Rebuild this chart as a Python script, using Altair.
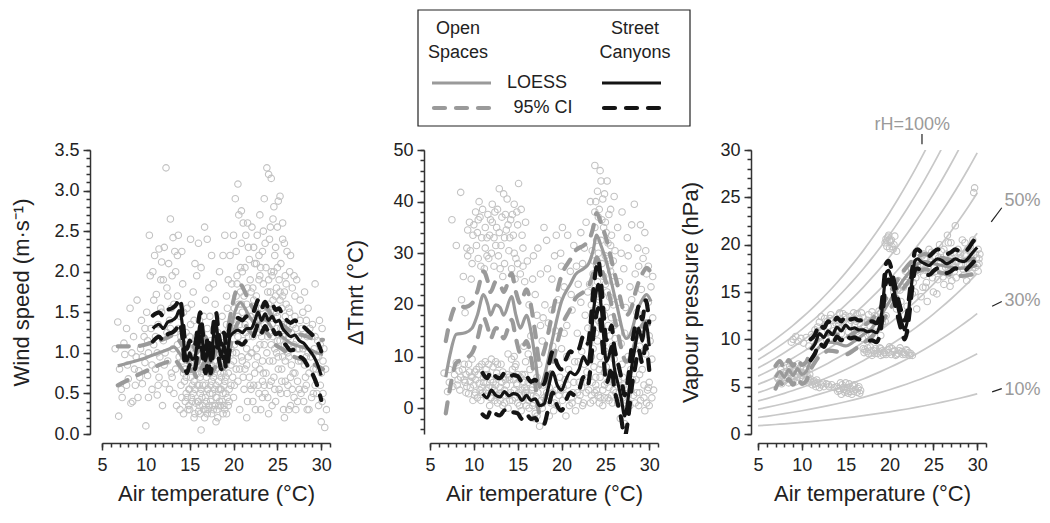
import altair as alt
import pandas as pd

# ---------------- data ----------------
wind_pts = [
    (6.5,1.05),(6.8,1.38),(6.9,0.22),(7.2,0.55),(7.3,0.45),(7.5,1.12),(7.6,0.98),(7.8,1.3),(7.9,0.85),(8.0,0.68),
    (8.2,1.55),(8.3,0.38),(8.5,0.4),(8.6,1.2),(8.8,0.6),(8.9,0.95),(9.0,1.65),(9.1,0.45),(9.2,0.78),(9.4,1.05),
    (9.5,1.4),(9.6,0.62),(9.8,1.2),(9.9,0.88),(10.0,0.1),(10.1,1.5),(10.2,0.72),(10.3,1.0),(10.4,2.45),(10.5,1.95),
    (10.6,1.3),(10.7,0.55),(10.8,2.0),(10.9,1.1),(11.0,2.2),(11.1,0.8),(11.2,1.72),(11.3,0.48),(11.4,1.35),(11.5,2.28),
    (11.6,0.95),(11.7,1.55),(11.8,2.12),(11.9,0.35),(12.0,1.15),(12.1,2.3),(12.2,0.62),(12.3,3.28),(12.4,1.8),(12.5,0.9),
    (12.6,2.1),(12.7,1.4),(12.8,2.65),(12.9,0.75),(13.0,1.95),(13.1,2.42),(13.2,0.5),(13.3,1.25),(13.4,2.0),(13.5,0.35),
    (13.6,1.7),(13.7,2.45),(13.8,0.95),(13.9,1.45),(14.0,0.6),(14.1,2.25),(14.2,1.85),(14.3,0.25),(14.4,1.1),
    (14.5,0.4),(14.6,0.7),(14.7,1.55),(14.8,0.3),(14.9,0.9),(15.0,0.55),(15.0,1.2),(15.1,2.4),(15.2,0.45),(15.3,0.8),
    (15.4,1.75),(15.5,0.2),(15.5,0.65),(15.6,1.0),(15.7,0.38),(15.8,1.95),(15.9,0.6),(16.0,0.28),(16.0,0.85),(16.1,1.4),
    (16.2,0.5),(16.3,0.05),(16.3,2.05),(16.4,0.75),(16.5,1.15),(16.5,0.35),(16.6,0.95),(16.7,2.55),(16.8,0.45),(16.9,0.7),
    (17.0,0.25),(17.0,1.3),(17.1,0.55),(17.2,1.8),(17.3,0.85),(17.4,0.4),(17.5,0.65),(17.5,2.2),(17.6,1.05),(17.7,0.3),
    (17.8,0.55),(17.9,1.6),(18.0,0.15),(18.0,0.8),(18.1,0.45),(18.2,1.25),(18.3,0.65),(18.4,2.0),(18.5,0.35),(18.5,0.95),
    (18.6,0.55),(18.7,1.45),(18.8,0.25),(18.9,0.75),(19.0,1.1),(19.0,2.45),(19.1,0.5),(19.2,1.7),(19.3,0.9),(19.4,0.35),
    (19.5,1.3),(19.6,2.2),(19.7,0.6),(19.8,1.85),(19.9,1.0),(20.0,2.45),(20.0,0.45),(20.1,1.55),(20.2,2.9),(20.3,0.8),
    (20.4,1.95),(20.5,3.08),(20.5,1.2),(20.6,2.7),(20.7,0.3),(20.8,1.75),(20.9,2.35),(21.0,0.9),(21.0,1.5),(21.1,2.6),
    (21.2,0.55),(21.3,2.05),(21.4,1.25),(21.5,0.2),(21.6,1.8),(21.7,2.3),(21.8,0.7),(21.9,1.45),(22.0,1.0),
    (22.1,2.55),(22.2,0.4),(22.3,1.65),(22.4,2.1),(22.5,0.85),(22.6,1.3),(22.7,2.45),(22.8,0.6),(22.9,1.9),(23.0,1.1),
    (23.0,2.7),(23.1,0.3),(23.2,1.55),(23.3,2.25),(23.4,0.75),(23.5,2.9),(23.5,1.35),(23.6,0.5),(23.7,2.05),(23.8,3.28),
    (23.8,1.0),(23.9,1.75),(24.0,3.2),(24.0,0.25),(24.1,2.4),(24.2,1.25),(24.3,3.15),(24.3,0.65),(24.4,1.95),(24.5,2.65),
    (24.5,0.9),(24.6,1.5),(24.7,2.2),(24.8,0.4),(24.9,1.8),(25.0,2.55),(25.0,1.15),(25.1,2.87),(25.2,0.55),(25.3,2.93),
    (25.3,1.65),(25.4,2.1),(25.5,0.8),(25.6,2.4),(25.7,1.35),(25.8,0.2),(25.9,1.95),(26.0,1.05),(26.1,2.25),(26.2,0.6),
    (26.3,1.55),(26.4,2.0),(26.5,0.35),(26.6,1.25),(26.7,1.8),(26.8,0.75),(27.0,1.45),(27.1,0.3),(27.2,1.9),(27.3,1.05),
    (27.5,0.55),(27.6,1.65),(27.7,0.9),(27.8,1.3),(28.0,0.4),(28.1,1.75),(28.2,0.7),(28.4,1.2),(28.5,1.55),(28.6,0.3),
    (28.8,0.95),(29.0,1.35),(29.1,0.5),(29.3,1.85),(29.4,0.8),(29.6,1.15),(29.7,0.35),(29.8,1.4),(30.0,0.15),(30.0,0.75),
    (30.1,1.3),(30.2,0.5),(30.3,1.05),(30.4,0.08),(30.5,0.8),(30.6,0.3),
    (14.6,0.5),(14.9,0.35),(15.2,0.95),(15.4,0.5),(15.7,0.8),(15.9,0.4),(16.1,0.6),(16.3,0.9),(16.6,0.3),(16.8,0.6),
    (17.0,0.8),(17.2,0.35),(17.4,0.6),(17.6,0.5),(17.8,0.9),(18.1,0.3),(18.3,0.55),(18.5,0.75),(18.7,0.4),(18.9,0.6),
    (19.1,0.85),(19.3,0.45),(15.8,1.2),(16.9,1.1),(18.2,1.0),(22.4,1.4),(22.9,1.25),(23.3,0.9),(23.6,1.6),(23.9,1.2),
    (24.2,1.75),(24.4,1.35),(24.7,1.05),(24.9,1.5),(25.2,1.9),(25.4,1.3),(25.6,1.7),(25.8,1.1),(26.0,1.6),(26.3,0.95),
    (22.2,1.8),(22.6,1.7),(23.1,2.05),(24.6,2.0),(25.9,1.45),(20.2,1.3),(20.6,1.6),(21.2,1.7),(19.8,1.4),(21.5,1.05),
    (13.0,0.7),(13.6,1.1),(12.2,1.0),(11.5,0.7),(12.8,1.3),(14.2,0.9),(27.4,1.2),(28.3,0.95),(29.2,1.05),(26.9,1.1),
    (14.5,0.8),(14.7,0.45),(14.8,1.05),(15.0,0.3),(15.1,0.7),(15.3,0.4),(15.4,1.1),(15.6,0.25),(15.6,0.55),(15.8,0.85),
    (16.0,0.4),(16.0,1.05),(16.2,0.25),(16.2,0.7),(16.4,0.45),(16.5,0.6),(16.7,0.2),(16.7,0.85),(16.9,0.4),(17.1,0.3),
    (17.1,0.95),(17.3,0.5),(17.5,0.25),(17.5,0.85),(17.7,0.7),(17.9,0.35),(18.0,0.6),(18.2,0.2),(18.4,0.4),(18.4,0.85),
    (18.6,0.7),(18.8,0.5),(19.0,0.3),(19.0,0.65),(19.2,0.25),(19.4,0.75),(19.5,0.55),(15.5,1.4),(16.4,1.25),(17.3,1.45),
    (18.6,1.2),(19.3,1.55),(14.3,1.5),(15.2,1.6),(16.8,1.65),(17.7,1.85),(18.8,2.2),(16.0,2.35),(15.6,2.1),(17.0,2.4),
    (19.7,1.05),(19.9,0.7),(20.1,1.1),(20.3,1.7),(20.5,0.65),(20.7,1.35),(20.9,0.95),(21.1,1.15),(21.3,0.8),(21.5,1.6),
    (21.7,0.95),(21.9,1.9),(22.0,0.55),(22.2,1.2),(22.4,0.75),(22.6,1.05),(22.8,1.55),(23.0,0.8),(23.2,1.2),(23.4,1.85),
    (23.5,0.6),(23.7,1.45),(23.9,0.45),(24.0,1.6),(24.1,0.9),(24.3,2.0),(24.5,1.2),(24.6,0.7),(24.8,1.7),(24.9,1.0),
    (25.0,1.45),(25.1,0.8),(25.3,1.15),(25.5,1.55),(25.6,0.95),(25.8,1.75),(25.9,0.65),(26.1,1.35),(26.2,1.0),(26.4,1.5),
    (26.6,0.85),(26.8,1.35),(27.0,0.75),(27.2,1.15),(27.4,0.9),(27.6,1.4),(27.9,1.05),(28.1,0.55),(28.3,1.4),(28.6,0.75),
    (28.9,1.2),(29.3,0.6),(29.5,0.95),(29.9,1.1),(30.2,0.9),(22.3,2.3),(23.6,2.35),(24.8,2.3),(25.6,2.6),(26.5,2.2),
    (7.0,0.8),(7.8,0.6),(8.4,1.0),(9.3,0.7),(9.9,1.3),(10.3,0.45),(10.7,0.85),(11.1,1.2),(11.4,0.6),(11.8,1.5),
    (12.1,0.85),(12.4,1.25),(12.7,0.55),(13.1,1.05),(13.4,0.8),(13.7,1.3),(14.0,1.2),(14.1,0.45),(13.2,1.6),(12.5,1.7),
    (20.3,2.25),(21.4,2.45),(20.8,2.05),(21.8,2.15),(19.4,1.9),(20.0,0.9),(21.6,0.4),(22.5,0.3),(23.3,0.45),(24.4,0.35),
    (25.4,0.5),(26.3,0.3),(27.3,0.4),(28.4,0.3),(26.7,0.55),(25.7,0.3),
    (14.4,0.65),(14.6,1.25),(14.9,0.55),(15.1,1.35),(15.3,0.6),(15.5,0.9),(15.7,1.15),(15.9,0.75),(16.1,0.35),(16.3,0.55),
    (16.5,0.8),(16.6,1.45),(16.8,0.3),(17.0,0.55),(17.2,0.75),(17.4,1.15),(17.6,0.35),(17.8,0.75),(18.0,0.45),(18.1,1.1),
    (18.3,0.35),(18.5,0.55),(18.7,0.85),(18.9,0.35),(19.1,0.7),(19.3,1.15),(19.5,0.4),(19.7,0.85),(19.9,1.25),(20.1,0.6),
    (20.3,1.0),(20.5,1.45),(20.7,0.8),(20.9,1.6),(21.1,0.7),(21.3,1.35),(21.5,0.85),(21.7,1.2),(21.9,0.6),(22.1,1.0),
    (22.3,0.6),(22.5,1.5),(22.7,0.95),(22.9,0.5),(23.1,1.4),(23.3,0.65),(23.5,1.1),(23.7,0.75),(23.9,1.55),(24.1,0.6),
    (24.3,1.1),(24.5,1.65),(24.7,0.55),(24.9,1.3),(25.1,0.95),(25.3,1.75),(25.5,0.65),(25.7,1.2),(25.9,0.9),(26.1,0.5),
    (26.3,1.2),(26.5,0.7),(26.7,1.05),(26.9,0.45),(27.1,1.3),(27.3,0.65),(27.5,1.05),(27.7,0.5),(27.9,1.5),(28.1,0.85),
    (28.3,0.6),(28.5,1.0),(28.7,1.3),(28.9,0.45),(29.1,0.8),(29.3,1.2),(29.5,0.5),(29.7,0.95),(29.9,0.6),(30.1,0.4),
    (19.2,1.35),(20.4,1.85),(21.0,2.0),(22.0,1.75),(23.0,1.95),(24.0,1.9),(25.0,2.05),(26.0,1.85),(27.0,1.7),(21.6,2.6),
    (22.6,2.1),(24.2,2.55),(25.8,2.35),(26.9,1.95),(23.4,2.5),(20.9,2.75),(24.6,2.8),(22.9,2.2),(13.6,2.2),(12.0,1.9),
    (13.3,2.25),(11.7,1.9),(10.9,1.65),(12.9,1.55),(11.3,1.0),(10.2,1.15),(9.6,0.95),(8.7,0.8),(13.9,0.3),(14.3,0.75),
]

wind_open_t = [6.8, 7.5, 8.5, 9.5, 10.5, 11.5, 12.5, 13.2, 13.8, 14.3, 14.8, 15.3, 15.8, 16.3, 16.8, 17.3, 17.8, 18.3, 18.8,
               19.3, 19.8, 20.3, 20.8, 21.3, 21.8, 22.3, 22.8, 23.3, 23.8, 24.3, 24.8, 25.5, 26.5, 27.5, 28.5, 29.5, 30.2]
wind_open_v = [0.84, 0.86, 0.89, 0.92, 0.96, 1.0, 1.04, 1.07, 1.0, 0.92, 0.88, 0.95, 0.85, 0.95, 1.05, 0.88, 0.95, 1.05, 0.95,
               1.1, 1.35, 1.55, 1.62, 1.55, 1.45, 1.38, 1.35, 1.42, 1.4, 1.32, 1.25, 1.2, 1.12, 1.08, 1.05, 1.0, 0.98]
wind_open_ci = [0.24, 0.22, 0.19, 0.17, 0.16, 0.15, 0.15, 0.15, 0.15, 0.15, 0.15, 0.15, 0.15, 0.15, 0.15, 0.15, 0.15, 0.15, 0.15,
                0.17, 0.2, 0.22, 0.22, 0.2, 0.18, 0.16, 0.15, 0.15, 0.15, 0.15, 0.15, 0.15, 0.15, 0.15, 0.15, 0.16, 0.18]

wind_street_t = [10.8, 11.5, 12.0, 12.5, 13.0, 13.5, 13.8, 14.1, 14.4, 14.7, 15.0, 15.3, 15.6, 15.9, 16.2, 16.5, 16.8, 17.1,
                 17.4, 17.7, 18.0, 18.3, 18.6, 18.9, 19.2, 19.6, 20.0, 20.5, 21.0, 21.5, 22.0, 22.5, 22.8, 23.2, 23.6, 24.0,
                 24.4, 24.8, 25.2, 25.6, 26.0, 26.5, 27.0, 27.5, 28.0, 28.5, 29.0, 29.5, 30.0]
wind_street_v = [1.3, 1.35, 1.3, 1.38, 1.4, 1.45, 1.52, 1.4, 1.05, 0.9, 1.0, 0.92, 0.95, 1.15, 1.35, 1.1, 0.9, 1.05,
                 0.9, 1.2, 1.35, 1.1, 0.95, 1.1, 0.95, 1.2, 1.25, 1.28, 1.25, 1.3, 1.3, 1.42, 1.5, 1.4, 1.48, 1.4,
                 1.45, 1.38, 1.4, 1.3, 1.25, 1.2, 1.22, 1.15, 1.12, 1.05, 0.98, 0.88, 0.72]
wind_street_ci = [0.16, 0.15, 0.15, 0.15, 0.15, 0.15, 0.15, 0.15, 0.15, 0.15, 0.15, 0.15, 0.15, 0.15, 0.15, 0.15, 0.15, 0.15,
                  0.15, 0.15, 0.15, 0.15, 0.15, 0.15, 0.15, 0.15, 0.15, 0.15, 0.15, 0.15, 0.15, 0.15, 0.15, 0.15, 0.15, 0.15,
                  0.15, 0.15, 0.15, 0.15, 0.16, 0.17, 0.18, 0.19, 0.2, 0.22, 0.24, 0.27, 0.3]

tmrt_pts = [
    (6.6,6.8),(7.0,3.2),(7.2,5.0),(7.5,36.5),(7.8,6.5),(8.0,31.5),(8.1,4.5),(8.3,7.2),(8.5,41.8),(8.6,21.0),
    (8.8,25.5),(8.9,5.5),(9.0,18.5),(9.1,3.0),(9.2,31.0),(9.3,29.5),(9.4,8.5),(9.5,36.0),(9.6,4.0),(9.7,25.0),
    (9.8,6.0),(9.9,33.5),(10.0,35.5),(10.1,2.5),(10.2,38.0),(10.3,7.5),(10.4,34.0),(10.5,29.0),(10.6,4.8),(10.7,37.0),
    (10.8,1.5),(10.9,33.0),(11.0,38.5),(11.1,6.0),(11.2,27.0),(11.3,35.0),(11.4,3.5),(11.5,29.5),(11.6,37.5),(11.7,8.5),
    (11.8,33.5),(11.9,2.0),(12.0,30.0),(12.1,36.0),(12.2,5.0),(12.3,27.5),(12.4,38.0),(12.5,9.0),(12.6,35.0),(12.7,1.0),
    (12.8,29.5),(12.9,42.5),(13.0,4.0),(13.1,31.5),(13.2,37.0),(13.3,7.0),(13.4,41.5),(13.5,28.0),(13.6,2.5),(13.7,34.5),
    (13.8,40.5),(13.9,10.5),(14.0,30.5),(14.1,5.5),(14.2,36.5),(14.3,27.0),(14.4,1.5),(14.5,33.5),(14.6,39.5),(14.7,8.0),
    (14.8,29.0),(14.9,4.5),(15.0,35.5),(15.1,43.5),(15.2,0.5),(15.3,26.0),(15.4,38.5),(15.5,6.5),(15.6,31.0),(15.7,12.0),
    (15.8,24.5),(15.9,3.0),
    (8.5,6.0),(9.0,5.0),(9.5,7.0),(10.0,4.5),(10.5,6.5),(11.0,3.0),(11.5,5.0),(12.0,2.0),(12.5,4.5),(13.0,1.5),
    (13.5,3.5),(14.0,2.5),(14.5,5.5),(15.0,1.0),(15.5,3.5),(16.0,0.5),(16.5,2.5),(17.0,-1.0),(12.2,8.0),(13.8,6.5),
    (14.8,8.5),(16.2,5.0),(17.3,3.0),(9.8,9.5),(11.3,9.0),(10.2,3.0),(12.8,6.0),(13.3,0.5),(15.8,6.5),(16.7,4.0),
    (16.1,28.5),(16.3,20.0),(16.5,14.0),(16.8,29.5),(17.0,22.0),(17.2,18.0),(17.4,8.5),(17.5,-3.5),(17.6,26.0),(17.8,13.0),
    (18.0,35.0),(18.1,20.0),(18.2,1.5),(18.3,32.5),(18.5,16.5),(18.6,-1.5),(18.8,9.5),(18.9,25.0),(19.0,3.0),(19.2,29.5),
    (19.3,15.0),(19.5,0.5),(19.6,21.0),(19.8,6.0),(19.9,30.0),(17.9,4.5),(18.4,6.5),(19.1,-0.5),(19.7,2.5),
    (20.0,11.5),(20.1,35.0),(20.2,4.0),(20.3,23.5),(20.5,-1.5),(20.6,16.0),(20.7,33.5),(20.8,7.5),(21.0,26.5),(21.1,2.0),
    (21.2,19.0),(21.4,31.5),(21.5,9.0),(21.6,-0.5),(21.8,14.5),(21.9,24.0),(22.0,5.0),(22.2,34.0),(22.3,11.0),(22.4,28.0),
    (22.5,1.0),(22.7,18.0),(22.8,36.0),(22.9,7.0),(23.0,15.5),(20.4,5.5),(21.3,3.0),(22.1,2.5),(22.6,8.5),
    (23.1,3.5),(23.2,24.0),(23.3,40.0),(23.4,10.0),(23.5,30.5),(23.6,1.5),(23.7,18.0),(23.8,47.0),(23.8,35.0),(23.9,6.0),
    (24.0,27.5),(24.1,42.0),(24.1,13.0),(24.2,2.5),(24.3,38.5),(24.3,21.0),(24.4,46.0),(24.5,8.5),(24.5,32.5),(24.6,15.5),
    (24.7,40.5),(24.7,0.5),(24.8,25.5),(24.9,4.5),(25.0,36.0),(25.0,11.0),(25.1,19.5),(25.2,44.0),(25.2,29.0),(25.3,2.0),
    (25.4,37.5),(25.5,14.0),(25.5,7.0),(25.6,26.5),(25.7,33.5),(25.8,1.0),(25.9,20.0),(26.0,41.0),(26.0,9.5),(26.1,30.5),
    (23.5,5.0),(24.0,3.5),(24.4,6.0),(24.9,2.0),(25.4,4.0),(25.9,5.5),(23.7,8.0),(24.2,17.0),(24.6,22.0),(25.3,16.0),
    (25.8,12.0),(23.2,12.5),(26.2,3.0),
    (26.3,16.5),(26.4,35.0),(26.5,1.5),(26.6,24.5),(26.7,-2.0),(26.8,12.5),(26.9,38.0),(27.0,6.0),(27.1,27.0),(27.2,-3.0),
    (27.3,19.5),(27.4,4.0),(27.5,33.0),(27.6,10.0),(27.7,1.0),(27.8,23.5),(27.9,7.5),(28.0,35.5),(28.1,14.0),(28.2,2.5),
    (26.5,5.5),(27.0,2.0),(27.5,0.0),(26.9,8.5),
    (28.3,39.5),(28.4,26.0),(28.5,5.5),(28.6,18.5),(28.7,31.0),(28.8,0.5),(28.9,12.0),(29.0,35.5),(29.1,23.0),(29.2,7.5),
    (29.3,29.0),(29.4,16.0),(29.5,34.0),(29.5,-0.5),(29.6,10.5),(29.7,26.0),(29.8,3.5),(29.9,20.5),(30.0,0.5),(30.1,13.0),
    (30.2,23.5),(30.3,9.5),(30.5,3.5),(30.4,17.5),
    (8.2,5.5),(8.7,7.5),(9.2,4.2),(9.7,6.2),(10.2,5.5),(10.6,8.0),(10.9,4.0),(11.2,6.5),(11.6,2.8),(11.9,5.5),
    (12.3,3.5),(12.6,6.8),(12.9,2.5),(13.2,5.0),(13.5,1.0),(13.7,4.5),(14.0,6.0),(14.2,3.0),(14.4,7.5),(14.7,2.0),
    (14.9,4.8),(15.1,3.0),(15.3,6.0),(15.6,1.5),(15.8,4.0),(16.1,2.5),(16.3,0.0),(16.6,3.5),(16.8,1.0),(17.1,2.2),
    (17.4,0.5),(17.7,1.5),(10.4,2.0),(11.8,0.5),(12.4,1.5),(13.9,0.0),(15.4,-0.5),(16.9,-2.0),(9.4,2.8),(8.9,8.5),
    (7.2,7.5),(7.6,4.2),(8.0,8.8),(12.0,9.5),(13.1,8.5),(14.6,10.0),(15.9,9.0),(16.4,7.5),(17.2,6.0),(11.4,7.5),
    (9.3,34.5),(9.8,28.0),(10.3,31.5),(10.8,27.5),(11.3,31.0),(11.9,36.5),(12.3,33.0),(12.7,38.5),(13.0,27.0),(13.6,37.5),
    (14.1,33.0),(14.6,30.0),(15.0,28.0),(15.5,33.5),(15.9,36.0),(11.5,33.0),(12.9,34.0),(14.4,37.5),(10.6,40.0),(13.3,25.5),
    (16.2,10.5),(16.7,25.0),(17.3,31.0),(17.9,17.5),(18.4,27.0),(18.9,19.0),(19.4,33.5),(20.0,27.5),(20.6,10.0),(21.1,22.0),
    (21.7,27.5),(22.2,20.5),(22.6,31.0),(23.0,22.5),(19.0,12.0),(20.3,14.5),(21.9,9.0),(17.6,16.0),
    (18.0,2.0),(18.6,4.0),(19.2,1.0),(19.9,3.5),(20.5,2.5),(20.9,0.5),(21.4,5.0),(21.9,1.5),(22.3,4.0),(22.8,3.0),
    (23.3,1.0),(23.8,3.0),(24.3,1.0),(24.7,3.5),(25.2,5.0),(25.7,2.5),(26.1,5.0),(26.6,3.0),(27.1,4.5),(27.6,2.5),
    (28.1,5.5),(28.6,3.0),(29.0,1.5),(29.4,4.5),(30.0,5.0),(26.3,7.0),(27.8,0.5),(28.9,6.5),(29.7,1.0),(30.3,2.0),
    (23.4,20.0),(23.6,26.0),(23.9,14.5),(24.0,32.5),(24.2,37.0),(24.4,10.0),(24.6,28.0),(24.8,35.0),(25.0,24.0),(25.1,8.0),
    (25.3,32.0),(25.5,21.5),(25.7,17.5),(25.9,28.5),(26.1,13.5),(24.1,24.5),(24.9,18.0),(25.6,38.5),(23.9,40.0),(24.5,44.0),
    (26.5,20.5),(26.8,30.0),(27.2,14.5),(27.6,29.5),(28.0,21.0),(28.4,11.5),(28.8,27.5),(29.2,15.5),(29.6,30.5),(30.0,14.0),
    (29.9,27.5),(30.4,25.5),
    (8.4,3.5),(9.1,6.5),(9.6,5.2),(10.1,7.0),(10.7,3.5),(11.1,5.0),(11.6,6.5),(12.1,4.0),(12.6,2.5),(13.1,3.0),
    (13.6,5.5),(14.1,1.5),(14.6,3.5),(15.2,2.5),(15.7,5.0),(16.2,1.5),(16.7,0.5),(17.2,-1.5),(17.8,0.0),(18.3,3.0),
    (18.8,1.0),(19.4,3.5),(20.1,1.5),(20.7,4.5),(21.2,1.0),(21.8,3.0),(22.4,0.5),(22.9,5.0),(23.4,2.5),(23.9,4.5),
    (24.4,2.0),(24.9,7.0),(25.4,1.5),(25.9,3.5),(26.4,1.0),(26.9,4.0),(27.4,1.5),(27.9,3.5),(28.4,1.0),(28.9,3.0),
    (29.4,2.0),(29.9,4.0),(10.9,8.5),(12.7,8.5),(14.3,9.5),(9.9,1.5),(11.7,4.0),(13.4,6.0),(15.0,6.5),(16.0,3.5),
    (23.5,15.5),(23.7,28.5),(24.0,20.5),(24.2,30.0),(24.4,16.5),(24.6,36.5),(24.8,12.5),(25.0,29.5),(25.2,22.5),(25.4,10.5),
    (25.6,31.5),(25.8,24.5),(26.0,16.0),(24.3,7.5),(24.7,19.0),(25.1,34.0),(23.6,11.5),(24.9,41.5),(25.5,27.5),(23.8,38.0),
    (9.6,30.5),(10.5,36.5),(11.7,29.0),(12.5,31.5),(13.9,35.5),(14.9,38.0),(15.6,27.5),(12.1,39.5),(13.5,33.0),(14.7,25.0),
]

tmrt_open_t = [6.8, 7.3, 8.0, 9.0, 9.8, 10.4, 11.1, 11.6, 11.9, 12.5, 13.0, 13.4, 14.3, 14.8, 15.3, 16.0, 16.5, 17.0, 17.5,
               18.0, 18.9, 20.0, 21.0, 21.6, 22.5, 23.1, 23.6, 24.0, 24.5, 25.1, 26.2, 27.4, 28.0, 28.5, 29.2, 29.7, 30.2]
tmrt_open_v = [6.0, 10.5, 14.3, 14.6, 15.5, 18.0, 22.0, 20.0, 18.0, 20.0, 19.5, 18.0, 21.6, 18.0, 15.5, 18.0, 15.0, 9.6, 4.0,
               6.0, 12.9, 20.7, 24.0, 25.9, 27.0, 28.0, 30.5, 33.5, 31.5, 28.5, 20.7, 13.5, 15.0, 18.1, 21.0, 22.0, 20.7]
tmrt_open_ci = [7.0, 6.5, 5.5, 5.0, 4.8, 4.6, 4.5, 4.5, 4.5, 4.5, 4.5, 4.5, 4.5, 4.5, 4.8, 5.0, 5.0, 5.0, 5.0,
                5.0, 5.0, 5.0, 4.8, 4.6, 4.5, 4.4, 4.4, 4.3, 4.3, 4.3, 4.4, 4.5, 4.6, 4.8, 5.0, 5.2, 5.5]

tmrt_street_t = [11.0, 11.5, 12.0, 12.5, 13.0, 13.5, 14.0, 14.5, 15.0, 15.5, 16.0, 16.5, 17.0, 17.5, 18.0, 18.5, 19.0, 19.5,
                 20.0, 20.5, 21.0, 21.5, 22.0, 22.5, 23.0, 23.3, 23.6, 23.9, 24.2, 24.5, 24.8, 25.1, 25.4, 25.7, 26.0, 26.4,
                 26.8, 27.2, 27.6, 28.0, 28.4, 28.8, 29.2, 29.6, 30.0]
tmrt_street_v = [2.8, 2.0, 3.5, 2.5, 2.2, 3.2, 2.4, 2.8, 2.6, 1.5, 2.5, 1.5, 1.8, 0.5, 0.8, 4.0, 7.0, 4.5,
                 3.5, 5.5, 7.0, 6.5, 7.5, 10.0, 8.5, 12.0, 18.0, 22.0, 24.0, 20.0, 14.0, 9.0, 10.0, 12.0, 8.0, 5.0,
                 2.0, -1.5, 2.0, 8.0, 12.0, 15.5, 13.0, 16.5, 12.0]
tmrt_street_ci = [4.0, 3.8, 3.7, 3.6, 3.6, 3.6, 3.6, 3.6, 3.6, 3.6, 3.6, 3.6, 3.7, 3.8, 3.9, 4.0, 4.0, 4.0,
                  4.0, 4.0, 4.0, 4.0, 4.0, 4.0, 4.0, 4.2, 4.4, 4.6, 4.6, 4.5, 4.3, 4.2, 4.0, 4.0, 4.0, 4.0,
                  4.0, 4.0, 4.0, 4.0, 4.0, 4.2, 4.2, 4.4, 4.6]

vp_pts = [
    (7.3,5.8),(7.5,5.5),(7.8,6.2),(8.0,5.6),(8.2,6.6),(8.4,5.9),(8.6,7.2),(8.8,6.1),(9.0,5.7),(9.2,6.8),
    (9.4,6.3),(9.6,7.4),(9.8,5.9),(10.0,6.5),(10.2,7.0),(10.4,5.6),(10.6,6.2),(10.8,5.4),(11.0,5.8),(11.2,5.2),
    (11.4,5.6),(11.6,5.0),(11.8,5.4),(12.0,4.9),(8.3,7.0),(9.5,6.0),(10.5,6.8),(7.6,6.8),
    (8.8,9.7),(9.0,10.0),(9.3,10.3),(9.6,9.8),(9.9,10.1),(10.2,9.6),(10.5,10.2),(10.8,9.3),(11.1,10.5),
    (14.0,5.0),(14.3,4.6),(14.6,5.2),(14.9,4.4),(15.2,4.9),(15.5,4.5),(15.8,5.1),(16.1,4.7),(16.4,4.8),(14.5,4.2),
    (15.0,5.4),(15.7,4.2),(16.7,4.6),
    (17.0,9.0),(17.4,8.7),(17.8,9.2),(18.2,8.8),(18.6,8.5),(19.0,9.0),(19.4,8.6),(19.8,8.9),(20.2,8.4),(20.6,8.8),
    (21.0,8.5),(21.4,8.7),(21.8,8.4),(22.2,8.6),(22.6,8.3),(18.0,8.3),(20.0,9.2),(21.2,9.1),
    (11.5,11.0),(12.0,11.8),(12.3,10.7),(12.6,12.2),(13.0,11.4),(13.3,12.6),(13.6,10.9),(14.0,12.0),(14.3,12.8),(14.6,11.3),
    (15.0,12.5),(15.3,10.8),(15.6,12.0),(16.0,11.5),(16.3,12.7),(16.6,11.0),(17.0,12.3),(17.3,11.8),(17.7,10.6),(18.0,12.9),
    (18.4,11.4),(18.7,12.1),(19.0,10.4),(19.3,13.5),(19.6,12.5),(13.8,9.8),(15.8,10.2),(12.8,10.0),(16.9,10.1),
    (19.5,20.2),(19.8,20.8),(20.0,19.6),(20.2,20.5),(20.5,20.0),(20.8,19.3),(19.9,21.0),(20.6,20.9),
    (20.5,15.0),(21.0,16.2),(21.3,14.0),(21.6,15.5),(22.0,13.5),(22.3,16.8),(22.6,14.8),(21.8,17.2),(20.8,13.2),
    (22.8,18.0),(23.0,16.5),(23.3,19.2),(23.5,17.2),(23.8,15.5),(24.0,18.5),(24.2,16.0),(24.5,19.5),(24.7,17.0),(25.0,15.0),
    (25.2,18.8),(25.5,16.3),(25.7,20.0),(26.0,17.5),(26.2,15.8),(26.5,19.0),(26.6,21.0),(26.8,16.8),(27.0,20.2),(27.2,18.0),
    (27.5,22.0),(27.6,16.5),(27.8,19.5),(28.0,17.8),(28.3,20.5),(28.5,16.8),(28.7,18.8),(29.0,17.5),(29.2,19.8),(29.4,18.2),
    (29.6,25.5),(29.7,26.0),(29.8,19.0),(30.0,17.8),(30.1,19.5),(30.2,18.5),(23.6,14.5),(24.3,14.0),(25.4,14.8),(26.3,18.2),
    (27.4,17.2),(28.8,16.2),(23.1,13.2),(22.9,15.0),
    (7.4,6.3),(7.7,5.3),(8.1,6.0),(8.5,5.4),(8.7,6.5),(9.1,6.1),(9.3,5.5),(9.7,6.6),(10.1,5.8),(10.3,6.4),
    (10.7,5.9),(10.9,6.3),(11.3,5.5),(11.7,5.7),(12.2,5.2),(12.5,5.0),(12.8,5.3),(13.1,5.0),(13.4,5.2),(13.7,4.9),
    (14.2,4.8),(14.8,4.7),(15.3,4.3),(15.6,4.8),(16.0,5.2),(16.3,4.4),(14.4,5.4),(15.4,5.3),
    (17.2,8.9),(17.6,8.5),(18.4,9.0),(18.8,8.7),(19.2,8.8),(19.6,8.4),(20.4,8.7),(20.8,8.4),(21.6,8.6),(22.0,8.8),
    (22.4,8.5),(19.0,8.3),
    (11.8,11.3),(12.2,12.4),(12.9,11.9),(13.5,12.0),(14.2,11.5),(14.8,12.3),(15.4,11.6),(15.9,12.8),(16.5,12.2),(17.1,11.2),
    (17.6,12.6),(18.2,11.9),(18.8,13.0),(19.2,11.7),(12.0,10.4),(14.5,10.6),(16.2,10.8),(18.0,10.5),
    (19.7,19.8),(20.1,20.3),(20.4,19.5),(19.6,20.6),
    (21.2,15.2),(21.9,16.0),(22.5,17.5),(23.2,17.8),(23.7,18.8),(24.1,17.3),(24.6,18.2),(25.1,17.6),(25.6,18.6),(26.1,16.6),
    (26.4,17.6),(26.9,18.5),(27.3,19.2),(27.7,18.2),(28.1,19.0),(28.4,17.4),(28.9,19.5),(29.3,17.0),(29.5,20.5),(29.9,18.6),
    (30.3,19.0),(30.1,17.2),(24.9,16.5),(25.9,19.3),(27.1,16.2),(28.6,20.2),(23.9,16.8),(22.7,16.0),(26.7,20.2),(29.1,18.0),
    (7.9,6.5),(8.9,5.9),(9.9,6.2),(10.9,5.6),(7.2,6.0),(8.6,6.8),(9.8,7.0),(11.5,5.3),(12.4,5.4),(13.0,5.2),
    (14.1,4.5),(14.7,4.9),(15.1,4.6),(15.9,4.5),(16.5,5.0),(16.6,4.3),
    (17.1,8.6),(17.5,9.1),(17.9,8.8),(18.3,8.5),(18.9,9.1),(19.3,8.4),(19.9,8.6),(20.3,9.0),(20.7,8.3),(21.1,8.8),
    (21.5,8.4),(21.9,8.9),(22.3,8.3),
    (12.5,11.4),(13.2,12.2),(13.9,11.7),(14.7,12.7),(15.5,12.4),(16.2,11.9),(16.8,12.8),(17.5,12.0),(18.3,12.5),(19.0,12.8),
    (19.5,11.9),(14.0,10.9),(17.3,10.9),(20.0,20.5),(20.3,19.8),(19.7,20.4),
    (22.9,17.2),(23.4,18.3),(23.9,19.0),(24.4,17.7),(24.8,19.2),(25.3,17.2),(25.8,18.2),(26.2,19.5),(26.6,17.9),(27.0,18.8),
    (27.5,17.6),(27.9,18.6),(28.2,17.9),(28.6,19.0),(29.0,18.4),(29.4,19.3),(29.8,17.6),(30.2,18.0),(24.1,15.5),(26.9,15.6),
]

vp_open_t = [7.0, 7.5, 8.0, 8.5, 9.0, 9.5, 10.0, 10.5, 11.0, 11.5, 12.0, 12.5, 13.0, 14.0, 15.0, 16.0, 17.0, 18.0, 19.0, 20.0,
             21.0, 22.0, 23.0, 24.0, 25.0, 26.0, 27.0, 28.0, 29.0, 30.0]
vp_open_v = [6.0, 6.6, 6.0, 6.8, 6.2, 6.9, 6.3, 6.6, 7.8, 8.6, 9.2, 9.5, 9.7, 9.6, 9.3, 9.8, 10.5, 11.2, 12.5, 14.0,
             15.5, 16.8, 17.8, 18.2, 18.0, 17.8, 17.6, 17.5, 17.6, 17.8]
vp_open_ci = [1.2, 1.1, 1.0, 1.0, 1.0, 1.0, 1.0, 1.0, 1.0, 1.0, 1.0, 1.0, 0.9, 0.9, 0.9, 0.9, 0.9, 0.9, 0.9, 0.9,
              0.9, 0.9, 0.8, 0.8, 0.8, 0.8, 0.8, 0.8, 0.8, 0.8]

vp_street_t = [11.0, 11.5, 12.0, 12.5, 13.0, 13.5, 14.0, 14.5, 15.0, 15.5, 16.0, 16.5, 17.0, 17.5, 18.0, 18.5, 19.0, 19.3,
               19.6, 19.9, 20.2, 20.5, 20.8, 21.1, 21.4, 21.7, 22.0, 22.3, 22.6, 22.9, 23.2, 23.6, 24.0, 24.5, 25.0, 25.5,
               26.0, 26.5, 27.0, 27.5, 28.0, 28.5, 29.0, 29.5, 30.0]
vp_street_v = [8.9, 9.5, 10.6, 10.2, 10.9, 10.5, 11.3, 10.9, 11.5, 11.1, 11.2, 11.0, 11.0, 10.8, 10.9, 10.7, 12.0, 14.5,
               17.0, 17.3, 16.5, 15.2, 14.0, 12.8, 11.8, 11.0, 11.8, 14.0, 16.5, 18.3, 18.5, 18.2, 18.0, 17.8, 18.2, 18.5,
               18.3, 18.0, 18.2, 18.5, 18.3, 18.2, 18.6, 19.2, 19.7]
vp_street_ci = [1.1, 1.0, 1.0, 1.0, 1.0, 1.0, 1.0, 1.0, 1.0, 1.0, 1.0, 1.0, 1.0, 1.0, 1.0, 1.0, 1.0, 1.0,
                1.0, 1.0, 1.0, 1.0, 1.0, 1.0, 1.0, 1.0, 1.0, 1.0, 1.0, 1.0, 1.0, 1.0, 1.0, 1.0, 1.0, 1.0,
                1.0, 1.0, 1.0, 1.0, 1.0, 1.0, 1.0, 1.1, 1.2]

# saturation vapour pressure table (hPa) at 5..30 degC, and rH isoline levels
es_t = [5, 6, 7, 8, 9, 10, 11, 12, 13, 14, 15, 16, 17, 18, 19, 20, 21, 22, 23, 24, 25, 26, 27, 28, 29, 30]
es_hpa = [8.72, 9.35, 10.02, 10.73, 11.48, 12.28, 13.12, 14.02, 14.97, 15.98, 17.05, 18.18, 19.37, 20.64, 21.97,
          23.38, 24.87, 26.44, 28.09, 29.83, 31.67, 33.61, 35.65, 37.80, 40.06, 42.43]
rh_levels = [100, 90, 80, 70, 60, 50, 40, 30, 20, 10]

x_major = [5, 10, 15, 20, 25, 30]
x_minor = list(range(5, 32))
wind_major = [0.0, 0.5, 1.0, 1.5, 2.0, 2.5, 3.0, 3.5]
wind_minor = [round(i * 0.1, 1) for i in range(36)]
tmrt_major = [0, 10, 20, 30, 40, 50]
tmrt_minor = list(range(-4, 51, 2))
vp_major = [0, 5, 10, 15, 20, 25, 30]
vp_minor = list(range(0, 31))

# ---------------- styling ----------------
FONT = "Liberation Sans, Arial, Helvetica, sans-serif"
AX = "#222222"
AXL = "#333333"
GREY_PT = "#c2c2c2"
GREY_LN = "#9a9a9a"
BLACK = "#141414"
W, H = 228, 284
DASH = [11, 11]

X_SCALE = alt.Scale(domain=[5, 31], nice=False, zero=False)

TXT = dict(labelColor=AX, titleColor=AX, labelFont=FONT, titleFont=FONT, labelFontSize=18, titleFontSize=22,
           titleFontWeight="normal", labelOverlap=False, labelFlush=False, grid=False)
LINE_STY = dict(domainColor=AXL, tickColor=AXL, domainWidth=1.5, tickWidth=1.5)


def major_x():
    return alt.Axis(orient="bottom", title="Air temperature (°C)", values=x_major, format="d", tickSize=7,
                    offset=9, labelPadding=6, titlePadding=9, **TXT, **LINE_STY)


def minor_x():
    return alt.Axis(orient="bottom", title=None, values=x_minor, tickSize=4, offset=9, labels=False,
                    domain=False, grid=False, **LINE_STY)


def major_y(title, values, fmt, offset, tpad):
    return alt.Axis(orient="left", title=title, values=values, format=fmt, tickSize=7, offset=offset,
                    labelPadding=4, titlePadding=tpad, **TXT, **LINE_STY)


def minor_y(values, offset):
    return alt.Axis(orient="left", title=None, values=values, tickSize=4, offset=offset, labels=False,
                    domain=False, grid=False, **LINE_STY)


def scatter(pts, ysc, xax, yax):
    df = pd.DataFrame(pts, columns=["t", "v"])
    return alt.Chart(df).mark_point(shape="circle", filled=False, size=42, strokeWidth=1.1,
                                    color=GREY_PT, opacity=1, clip=True).encode(
        x=alt.X("t:Q", scale=X_SCALE, axis=xax), y=alt.Y("v:Q", scale=ysc, axis=yax))


def loess(t, v, ci, color, ysc, xax=None, yax=None):
    df = pd.DataFrame({"t": t, "v": v, "ci": ci})
    base = alt.Chart(df).transform_calculate(lo="datum.v - datum.ci", hi="datum.v + datum.ci")
    out = []
    for f in ["lo", "hi"]:
        out.append(base.mark_line(color=color, strokeWidth=4.2, strokeDash=DASH, strokeCap="round",
                                  interpolate="monotone", clip=True).encode(
            x=alt.X("t:Q", scale=X_SCALE, axis=None), y=alt.Y(f"{f}:Q", scale=ysc, axis=None)))
    out.append(base.mark_line(color=color, strokeWidth=3.2, interpolate="monotone", clip=True).encode(
        x=alt.X("t:Q", scale=X_SCALE, axis=xax), y=alt.Y("v:Q", scale=ysc, axis=yax)))
    return out


def panel(layers):
    return alt.layer(*layers).resolve_axis(x="independent", y="independent").properties(width=W, height=H)


# ---------------- panel 1: wind ----------------
ysc1 = alt.Scale(domain=[0, 3.5], nice=False, zero=False)
p1 = panel([
    scatter(wind_pts, ysc1, major_x(), major_y("Wind speed (m\u00b7s\u207b\u00b9)", wind_major, ".1f", 12, 20)),
    *loess(wind_open_t, wind_open_v, wind_open_ci, GREY_LN, ysc1, minor_x(), minor_y(wind_minor, 12)),
    *loess(wind_street_t, wind_street_v, wind_street_ci, BLACK, ysc1),
])

# ---------------- panel 2: delta Tmrt (+ legend) ----------------
ysc2 = alt.Scale(domain=[-5, 50], nice=False, zero=False)

one = alt.Chart(pd.DataFrame({"a": [0]}))
legend = [
    one.mark_rect(fill="transparent", stroke=AX, strokeWidth=1.2).encode(
        x=alt.value(-12), x2=alt.value(260), y=alt.value(-140), y2=alt.value(-24)),
]
for txt, lx, ly in [("Open", 28, -121), ("Spaces", 28, -97), ("Street", 205, -121),
                    ("Canyons", 205, -97), ("LOESS", 107, -67), ("95% CI", 113, -42)]:
    legend.append(one.mark_text(text=txt, font=FONT, fontSize=18, color=AX, align="center",
                                baseline="middle").encode(x=alt.value(lx), y=alt.value(ly)))
for col, lx0, lx1 in [(GREY_LN, 2, 61), (BLACK, 172, 231)]:
    legend.append(one.mark_rule(color=col, strokeWidth=3.2).encode(
        x=alt.value(lx0), x2=alt.value(lx1), y=alt.value(-67)))
    legend.append(one.mark_rule(color=col, strokeWidth=4.2, strokeDash=DASH, strokeCap="round").encode(
        x=alt.value(lx0 + 2), x2=alt.value(lx1 - 2), y=alt.value(-42)))

p2 = panel([
    scatter(tmrt_pts, ysc2, major_x(), major_y("\u0394Tmrt (°C)", tmrt_major, "d", 6, 25)),
    *loess(tmrt_open_t, tmrt_open_v, tmrt_open_ci, GREY_LN, ysc2, minor_x(), minor_y(tmrt_minor, 6)),
    *loess(tmrt_street_t, tmrt_street_v, tmrt_street_ci, BLACK, ysc2),
    *legend,
])

# ---------------- panel 3: vapour pressure ----------------
ysc3 = alt.Scale(domain=[0, 30], nice=False, zero=False)

iso_rows = []
for rh in rh_levels:
    for tt, es in zip(es_t, es_hpa):
        iso_rows.append({"t": tt, "v": es * rh / 100.0, "rh": rh})
iso = alt.Chart(pd.DataFrame(iso_rows)).mark_line(color="#c8c8c8", strokeWidth=1.7, interpolate="monotone",
                                                  clip=True).encode(
    x=alt.X("t:Q", scale=X_SCALE, axis=major_x()),
    y=alt.Y("v:Q", scale=ysc3, axis=major_y("Vapour pressure (hPa)", vp_major, "d", 7, 17)),
    detail="rh:N")

ann_c = pd.DataFrame({"t": [22.6], "v": [32.6], "label": ["rH=100%"]})
ann_l = pd.DataFrame({"t": [33.1, 33.1, 33.1], "v": [24.6, 14.0, 4.7], "label": ["50%", "30%", "10%"]})
ann_r = pd.DataFrame({"t": [23.7, 31.6, 31.7, 31.7], "v": [31.7, 22.4, 13.5, 4.45],
                      "t2": [23.7, 32.8, 32.8, 32.8], "v2": [30.6, 23.9, 14.0, 4.8]})
ann = [
    alt.Chart(ann_c).mark_text(font=FONT, fontSize=18, color=GREY_LN, align="center", baseline="middle").encode(
        x=alt.X("t:Q", scale=X_SCALE, axis=None), y=alt.Y("v:Q", scale=ysc3, axis=None), text="label:N"),
    alt.Chart(ann_l).mark_text(font=FONT, fontSize=18, color=GREY_LN, align="left", baseline="middle").encode(
        x=alt.X("t:Q", scale=X_SCALE, axis=None), y=alt.Y("v:Q", scale=ysc3, axis=None), text="label:N"),
    alt.Chart(ann_r).mark_rule(color=AX, strokeWidth=1.2).encode(
        x=alt.X("t:Q", scale=X_SCALE, axis=None), y=alt.Y("v:Q", scale=ysc3, axis=None), x2="t2:Q", y2="v2:Q"),
]

p3 = panel([
    iso,
    scatter(vp_pts, ysc3, None, None),
    *loess(vp_open_t, vp_open_v, vp_open_ci, GREY_LN, ysc3, minor_x(), minor_y(vp_minor, 7)),
    *loess(vp_street_t, vp_street_v, vp_street_ci, BLACK, ysc3),
    *ann,
])

chart = alt.hconcat(p1, p2, p3, spacing=100, bounds="flush").properties(
    padding={"left": 2, "top": 1, "right": 0, "bottom": 4}
).configure_view(stroke=None)

chart.save("out.html", embed_options={"renderer": "svg", "actions": False})
